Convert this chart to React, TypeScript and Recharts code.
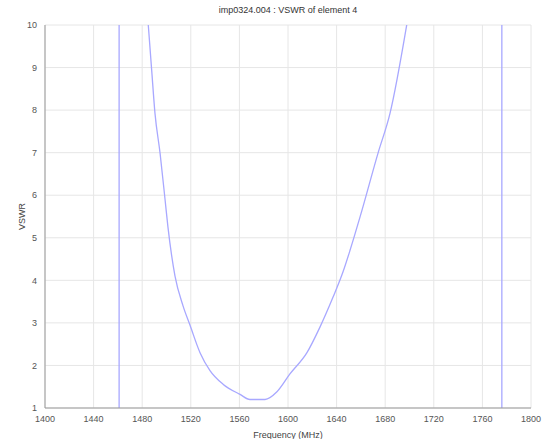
import { LineChart, Line, XAxis, YAxis, CartesianGrid, ReferenceLine } from 'recharts';

// frequency (MHz) and VSWR
const freq = [1485, 1487.8, 1490.5, 1494.7, 1498.8, 1501.2, 1507, 1513.6, 1519.3, 1527.6, 1535.8, 1546.5, 1560.5, 1568.7, 1581.1, 1590.9, 1601.6, 1615.6, 1626.3, 1637, 1645.3, 1651, 1659.3, 1674.1, 1684, 1697.7];
const vswr = [10, 8.94, 7.93, 6.99, 5.9, 5.25, 4.1, 3.4, 2.95, 2.3, 1.88, 1.56, 1.32, 1.2, 1.2, 1.38, 1.8, 2.3, 2.9, 3.6, 4.2, 4.7, 5.49, 6.99, 7.93, 10];
const bandEdges = [1461, 1776];
const xTicks = [1400, 1440, 1480, 1520, 1560, 1600, 1640, 1680, 1720, 1760, 1800];
const yTicks = [1, 2, 3, 4, 5, 6, 7, 8, 9, 10];

const data = freq.map((f, i) => ({ f, v: vswr[i] }));

const font = 'Liberation Sans, Arial, sans-serif';
const tickStyle = { fill: '#555', fontSize: 9, fontFamily: font };

export default function App() {
  return (
    <div style={{ position: 'absolute', left: 0, top: 0, width: 546, height: 439, background: '#fff' }}>
      <div
        style={{
          position: 'absolute', left: 45, width: 486, top: 5, textAlign: 'center',
          fontSize: 9, fontFamily: font, color: '#333',
        }}
      >
        imp0324.004 : VSWR of element 4
      </div>
      <LineChart width={546} height={439} data={data} margin={{ top: 25, right: 15, left: 15, bottom: 1 }}>
        <CartesianGrid stroke="#e6e6e6" horizontal vertical />
        <XAxis
          dataKey="f"
          type="number"
          domain={[1400, 1800]}
          ticks={xTicks}
          interval={0}
          height={30}
          tick={tickStyle}
          tickLine={false}
          axisLine={{ stroke: '#999' }}
          label={{ value: 'Frequency (MHz)', position: 'insideBottom', offset: 0, style: { ...tickStyle, fill: '#444' } }}
        />
        <XAxis xAxisId="top" orientation="top" type="number" domain={[1400, 1800]} height={0} tick={false} tickLine={false} axisLine={{ stroke: '#999' }} />
        <YAxis
          type="number"
          domain={[1, 10]}
          ticks={yTicks}
          interval={0}
          width={30}
          allowDataOverflow
          tick={tickStyle}
          tickLine={false}
          axisLine={{ stroke: '#999' }}
          label={{ value: 'VSWR', angle: -90, position: 'insideLeft', offset: 7, style: { ...tickStyle, fill: '#444', textAnchor: 'middle' } }}
        />
        <YAxis yAxisId="right" orientation="right" type="number" domain={[1, 10]} width={0} tick={false} tickLine={false} axisLine={{ stroke: '#999' }} />
        {bandEdges.map((x) => (
          <ReferenceLine key={x} x={x} stroke="#a8a8ff" strokeWidth={1.3} />
        ))}
        <Line
          type="monotone"
          dataKey="v"
          stroke="#a8a8ff"
          strokeWidth={1.3}
          dot={false}
          isAnimationActive={false}
        />
      </LineChart>
    </div>
  );
}
